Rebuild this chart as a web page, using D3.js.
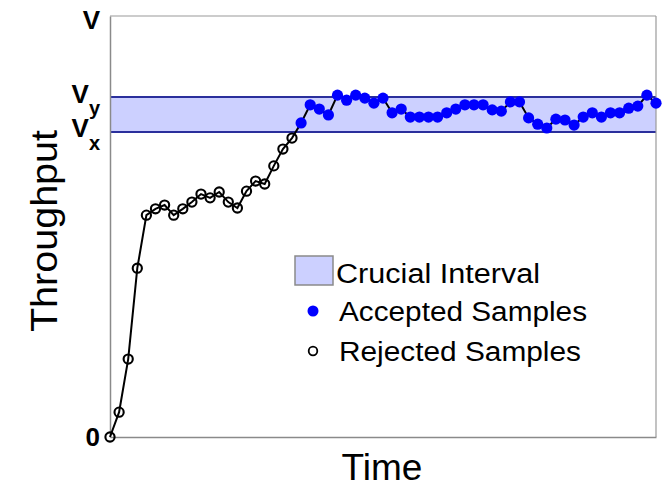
<!DOCTYPE html>
<html><head><meta charset="utf-8">
<script src="https://cdn.jsdelivr.net/npm/d3@7/dist/d3.min.js"></script>
<style>body{margin:0;background:#fff}svg{display:block}</style>
</head><body><svg id="c" width="667" height="490"></svg>
<script>
const timeSteps = [0,1,2,3,4,5,6,7,8,9,10,11,12,13,14,15,16,17,18,19,20,21,22,23,24,25,26,27,28,29,30,31,32,33,34,35,36,37,38,39,40,41,42,43,44,45,46,47,48,49,50,51,52,53,54,55,56,57,58,59,60];
const throughput = [0,0.059,0.185,0.401,0.527,0.542,0.551,0.527,0.542,0.558,0.577,0.568,0.582,0.558,0.544,0.584,0.608,0.601,0.644,0.684,0.710,
  0.746,0.789,0.779,0.765,0.812,0.800,0.812,0.805,0.793,0.805,0.770,0.779,0.760,0.760,0.760,0.760,0.770,0.779,0.789,0.789,0.789,0.777,0.774,0.796,0.796,
  0.758,0.743,0.734,0.755,0.753,0.741,0.760,0.770,0.760,0.770,0.770,0.781,0.786,0.812,0.793];
const sampleStatus = ["R","R","R","R","R","R","R","R","R","R","R","R","R","R","R","R","R","R","R","R","R",
  "A","A","A","A","A","A","A","A","A","A","A","A","A","A","A","A","A","A","A","A","A","A","A","A","A",
  "A","A","A","A","A","A","A","A","A","A","A","A","A","A","A"];
const yTickValues = [0, 0.7245, 0.8076, 1];
const yTickMain = ["0","V","V","V"];
const yTickSub = ["","x","y",""];
const intervalBounds = [0.7245, 0.8076];
const legendLabels = ["Crucial Interval","Accepted Samples","Rejected Samples"];
const xTitle = "Time", yTitle = "Throughput";

const svg = d3.select("#c");
const L = 110, R = 656, T = 16, B = 437;
const x = d3.scaleLinear().domain([0, 60]).range([L, R]);
const y = d3.scaleLinear().domain([0, 1]).range([B, T]);
const font = "'Liberation Sans', Arial, Helvetica, sans-serif";

// crucial interval band
svg.append("rect").attr("x", x(0)).attr("width", x(60) - x(0))
  .attr("y", y(intervalBounds[1])).attr("height", y(intervalBounds[0]) - y(intervalBounds[1]))
  .attr("fill", "#ccd0ff");
intervalBounds.forEach(v => {
  svg.append("line").attr("x1", x(0)).attr("x2", x(60)).attr("y1", y(v)).attr("y2", y(v))
    .attr("stroke", "#2a2f9c").attr("stroke-width", 2);
});

// frame
svg.append("line").attr("x1", L).attr("x2", R).attr("y1", T).attr("y2", T).attr("stroke", "#9a9a9a").attr("stroke-width", 1.2);
svg.append("line").attr("x1", R).attr("x2", R).attr("y1", T).attr("y2", B).attr("stroke", "#9a9a9a").attr("stroke-width", 1.2);

const yAxis = svg.append("g").attr("transform", `translate(${L},0)`)
  .call(d3.axisLeft(y).tickValues(yTickValues).tickSize(0).tickPadding(10).tickFormat(""));
yAxis.select(".domain").attr("stroke", "#8a8a8a").attr("stroke-width", 1.5);
const mainDy = [8, 5, 5, 12];
yAxis.selectAll(".tick text").each(function(d, i) {
  const t = d3.select(this);
  t.attr("font-family", font).attr("font-weight", "bold").attr("font-size", 26).attr("fill", "#000")
   .attr("dy", mainDy[i]);
  t.append("tspan").text(yTickMain[i]);
  if (yTickSub[i]) t.append("tspan").attr("font-size", 20).attr("dy", 12.5).text(yTickSub[i]);
});

const xAxis = svg.append("g").attr("transform", `translate(0,${B})`)
  .call(d3.axisBottom(x).tickValues([]).tickSize(0));
xAxis.select(".domain").attr("stroke", "#8a8a8a").attr("stroke-width", 1.5);

// line
const pts = timeSteps.map((t, i) => ({t, v: throughput[i], s: sampleStatus[i]}));
svg.append("path").datum(pts)
  .attr("d", d3.line().x(d => x(d.t)).y(d => y(d.v)))
  .attr("fill", "none").attr("stroke", "#000").attr("stroke-width", 2);

svg.selectAll("circle.rej").data(pts.filter(d => d.s === "R")).join("circle")
  .attr("class", "rej").attr("cx", d => x(d.t)).attr("cy", d => y(d.v)).attr("r", 4.6)
  .attr("fill", "none").attr("stroke", "#000").attr("stroke-width", 2.1);
svg.selectAll("circle.acc").data(pts.filter(d => d.s === "A")).join("circle")
  .attr("class", "acc").attr("cx", d => x(d.t)).attr("cy", d => y(d.v)).attr("r", 5.6)
  .attr("fill", "#0000ff");

// titles
svg.append("text").attr("x", 382).attr("y", 480).attr("text-anchor", "middle")
  .attr("font-family", font).attr("font-size", 37).text(xTitle);
svg.append("text").attr("transform", "translate(57,231) rotate(-90)").attr("text-anchor", "middle")
  .attr("font-family", font).attr("font-size", 36).attr("textLength", 202).attr("lengthAdjust", "spacingAndGlyphs").text(yTitle);

// legend
const lg = svg.append("g").attr("font-family", font).attr("font-size", 27);
lg.append("rect").attr("x", 295).attr("y", 256).attr("width", 38).attr("height", 29)
  .attr("fill", "#ccd0ff").attr("stroke", "#8a8a8a").attr("stroke-width", 1.5);
lg.append("circle").attr("cx", 313).attr("cy", 311).attr("r", 5.5).attr("fill", "#0000ff");
lg.append("circle").attr("cx", 313).attr("cy", 351).attr("r", 4.3).attr("fill", "none").attr("stroke", "#000").attr("stroke-width", 1.8);
const legendY = [283, 321, 361], legendX = [336, 339, 339], legendW = [204, 248, 242];
legendLabels.forEach((lab, i) => {
  lg.append("text").attr("x", legendX[i]).attr("y", legendY[i])
    .attr("textLength", legendW[i]).attr("lengthAdjust", "spacingAndGlyphs").text(lab);
});
</script></body></html>
